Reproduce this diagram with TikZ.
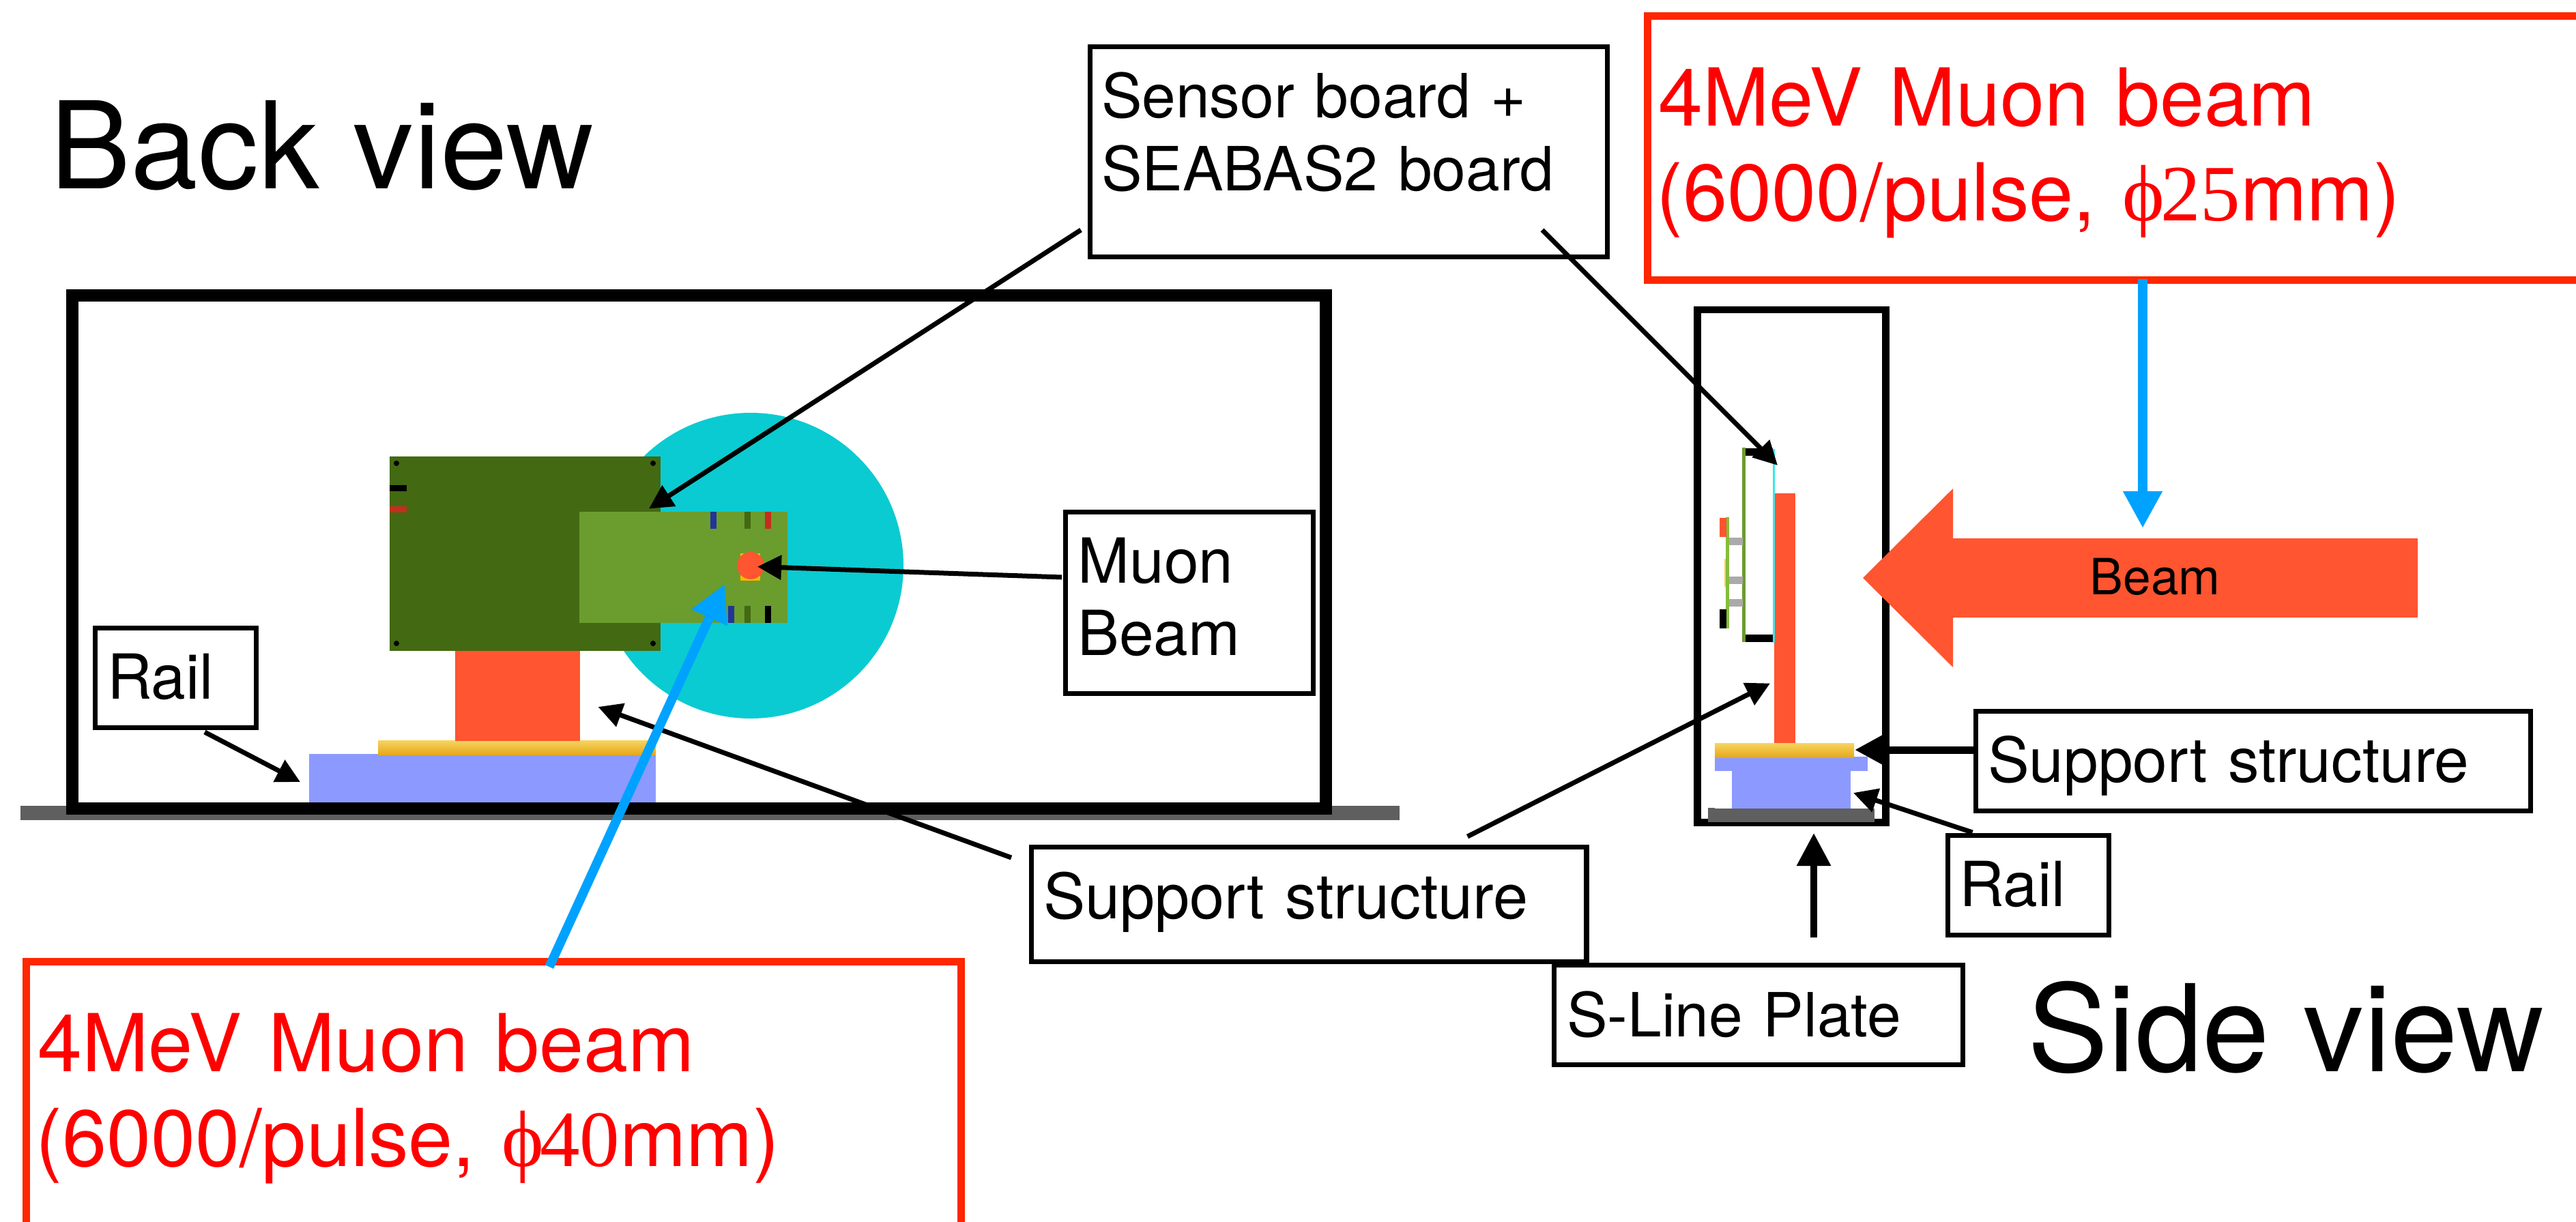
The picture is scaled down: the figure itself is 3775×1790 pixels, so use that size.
\documentclass[tikz,border=0pt]{standalone}
\usepackage{fontspec}
\usetikzlibrary{arrows.meta}
\setmainfont{TeX Gyre Heros}
\newfontfamily\serifpart{Liberation Serif}
\definecolor{frameorange}{HTML}{FF5530}
\definecolor{railblue}{HTML}{8C9AFF}
\definecolor{plategray}{HTML}{5F5F5F}
\definecolor{goldtop}{HTML}{F8D45F}
\definecolor{goldbot}{HTML}{E4A81E}
\definecolor{beamcyan}{HTML}{0ACBD1}
\definecolor{darkboard}{HTML}{436912}
\definecolor{lightboard}{HTML}{6B9C2E}
\definecolor{barblue}{HTML}{233499}
\definecolor{barred}{HTML}{C52E1E}
\definecolor{chipyellow}{HTML}{FBB900}
\definecolor{beamblue}{HTML}{00A2FF}
\definecolor{boxred}{HTML}{FF2600}
\definecolor{thincyan}{HTML}{38E8EE}
\definecolor{smallgreen}{HTML}{85BD3A}
\definecolor{spacergray}{HTML}{AAAAAA}
\newcommand{\firstline}[1]{\rule{0pt}{#1cm}}
\newcommand{\lastline}[1]{\rule[-#1cm]{0pt}{#1cm}}
\newcommand{\phisym}{{\serifpart\symbol{"03D5}}\kern-.06cm\relax}
\tikzset{
  tbox/.style={draw=black,line width=.07cm,outer sep=0pt,inner ysep=0pt,anchor=north west,align=left,
    font=\fontsize{25.9}{30.4}\selectfont},
  redbox/.style={draw=boxred,line width=.11cm,outer sep=0pt,inner ysep=0pt,anchor=north west,align=left,
    text=red,font=\fontsize{33.3}{39.5}\selectfont},
  viewlabel/.style={anchor=base west,inner sep=0pt,font=\fontsize{50.4}{60}\selectfont},
  pointer/.style={draw=black,line width=.07cm,-{Triangle[length=.35cm,width=.35cm]}},
  beamline/.style={draw=beamblue,line width=.135cm,-{Triangle[length=.54cm,width=.54cm]}},
}
\begin{document}
\begin{tikzpicture}[x=.01cm,y=-.01cm]
\useasboundingbox (0,0) rectangle (3775,1790);
\clip (0,0) rectangle (3775,1790);
% back view
\fill[plategray] (30,1181) rectangle (2051,1202);
\draw[line width=.18cm] (106,433) rectangle (1943,1185);
\fill[beamcyan] (1100,829) circle (224);
\fill[railblue] (453,1105) rectangle (961,1176);
\path[top color=goldtop,bottom color=goldbot] (554,1085) rectangle (961,1106);
\fill[frameorange] (667,954) rectangle (850,1086);
\fill[darkboard] (571,669) rectangle (968,954);
\foreach \hx/\hy in {581/679,957/679,581/943,957/943} \fill[black] (\hx,\hy) circle (4);
\fill[black] (571,711) rectangle (596,720);
\fill[barred] (571,742) rectangle (596,751);
\fill[lightboard] (849,750) rectangle (1154,913);
\fill[barblue] (1041,750) rectangle (1050,775);
\fill[darkboard] (1091,750) rectangle (1100,775);
\fill[barred] (1121,750) rectangle (1130,775);
\fill[barblue] (1067,888) rectangle (1076,913);
\fill[darkboard] (1091,888) rectangle (1100,913);
\fill[black] (1121,888) rectangle (1130,913);
\fill[chipyellow] (1085,811) rectangle (1114,851);
\fill[frameorange] (1100,829) circle (20);
% side view
\draw[line width=.105cm] (2487.5,454) rectangle (2763.5,1205.5);
\fill[plategray] (2503,1185) rectangle (2747,1204.5);
\fill[plategray] (2503,1184) rectangle (2513,1186);
\fill[railblue] (2513,1109) rectangle (2737,1130);
\fill[railblue] (2538,1130) rectangle (2712,1185);
\path[top color=goldtop,bottom color=goldbot] (2513,1089) rectangle (2717,1110);
\fill[frameorange] (2600,723) rectangle (2631,1089);
\fill[black] (2558,657) rectangle (2598,668);
\fill[black] (2558,930) rectangle (2598,941);
\fill[thincyan] (2598,657.5) rectangle (2601,941.5);
\fill[lightboard] (2553,656) rectangle (2558,941);
\fill[spacergray] (2534,788) rectangle (2554,799);
\fill[spacergray] (2534,845) rectangle (2554,856);
\fill[spacergray] (2534,878) rectangle (2554,889);
\fill[smallgreen] (2529,758) rectangle (2534,921);
\fill[frameorange] (2520,759) rectangle (2530,787);
\fill[goldtop] (2527,819) rectangle (2529,860);
\fill[black] (2520,893) rectangle (2530,921);
% big beam arrow
\fill[frameorange] (2730,847) -- (2862,716) -- (2862,789) -- (3543,789) -- (3543,905) -- (2862,905) -- (2862,978) -- cycle;
\node[anchor=base west,inner sep=0pt,font=\fontsize{20.8}{24}\selectfont] (beamlabel) at (3062,871) {Beam};
% titles
\node[viewlabel] (backview) at (73,276) {Back view};
\node[viewlabel] (sideview) at (2971,1570) {Side view};
% labelled boxes
\node[tbox,font=\fontsize{25.4}{30.4}\selectfont,inner xsep=.17cm,text width=7.24cm] (sensor) at (1597,68)
  {\firstline{1.045}Sensor board +\\SEABAS2 board\lastline{.965}};
\node[tbox,inner xsep=.18cm,text width=3.27cm] (muon) at (1561.5,750)
  {\firstline{1.04}Muon\\Beam\lastline{.555}};
\node[tbox,inner xsep=.175cm,text width=2.01cm] (railback) at (139.5,920.5)
  {\firstline{1.035}Rail\lastline{.425}};
\node[tbox,font=\fontsize{26.1}{30.4}\selectfont,inner xsep=.175cm,text width=7.78cm] (supportback) at (1511.5,1241.5)
  {\firstline{1.05}Support structure\lastline{.63}};
\node[tbox,inner xsep=.175cm,text width=7.77cm] (supportside) at (2895.5,1042.5)
  {\firstline{1.04}Support structure\lastline{.42}};
\node[tbox,inner xsep=.165cm,text width=2.03cm] (railside) at (2854.5,1224.5)
  {\firstline{1.035}Rail\lastline{.425}};
\node[tbox,font=\fontsize{25.4}{30.4}\selectfont,inner xsep=.185cm,text width=5.62cm] (sline) at (2277.5,1414.5)
  {\firstline{1.045}S-Line Plate\lastline{.415}};
\node[redbox,inner xsep=.16cm,text width=13.6cm] (redtop) at (2414,23)
  {\firstline{1.61}4MeV Muon beam\\\hspace*{-.03cm}(6000/pulse, \phisym{\serifpart 25}mm)\lastline{.87}};
\node[redbox,inner xsep=.165cm,text width=13.365cm] (redbottom) at (38.5,1409.3)
  {\firstline{1.607}4MeV Muon beam\\\hspace*{-.03cm}(6000/pulse, \phisym{\serifpart 40}mm)\lastline{.91}};
% connector ends
\coordinate (sensorL) at (1584,337);
\coordinate (sensorR) at (2260,337);
\coordinate (backboard) at (951,745.5);
\coordinate (sideboard) at (2605,682);
\coordinate (muonfrom) at (1556,846);
\coordinate (muonspot) at (1110,830.5);
\coordinate (suppfromL) at (1482,1257);
\coordinate (suppfromR) at (2150.5,1226);
\coordinate (postback) at (876.5,1036);
\coordinate (postside) at (2594,1001.5);
\coordinate (railfromL) at (300,1073);
\coordinate (railback to) at (440,1146);
\coordinate (railfromR) at (2890.5,1220);
\coordinate (railside to) at (2716,1162);
\coordinate (suppsidefrom) at (2895,1099);
\coordinate (goldside) at (2718,1099);
\coordinate (slinefrom) at (2658,1374);
\coordinate (slineto) at (2658,1221);
\coordinate (beamfromB) at (805,1417);
\coordinate (beamtoB) at (1062,856);
\coordinate (beamfromT) at (3140,409);
\coordinate (beamtoT) at (3140,774);
% connectors
\draw[pointer] (sensorL) -- (backboard);
\draw[pointer] (sensorR) -- (sideboard);
\draw[pointer] (muonfrom) -- (muonspot);
\draw[pointer] (suppfromL) -- (postback);
\draw[pointer] (suppfromR) -- (postside);
\draw[pointer] (railfromL) -- (railback to);
\draw[pointer] (railfromR) -- (railside to);
\draw[draw=black,line width=.11cm,-{Triangle[length=.45cm,width=.45cm]}] (suppsidefrom) -- (goldside);
\draw[draw=black,line width=.095cm,-{Triangle[length=.48cm,width=.48cm]}] (slinefrom) -- (slineto);
\draw[beamline] (beamfromB) -- (beamtoB);
\draw[beamline] (beamfromT) -- (beamtoT);
\end{tikzpicture}
\end{document}
